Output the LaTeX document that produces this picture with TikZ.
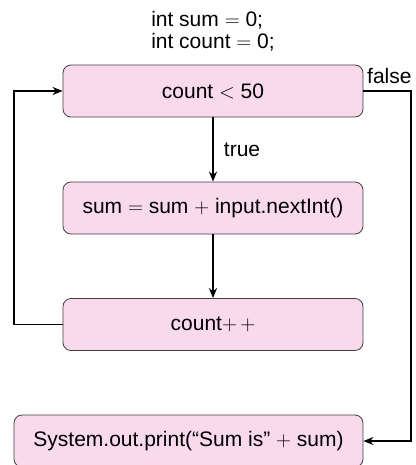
\documentclass[tikz,border=0pt]{standalone}
\usepackage{fontspec}
\setmainfont{Liberation Sans}
\usetikzlibrary{arrows.meta}
\definecolor{boxpink}{RGB}{249,217,236}
\begin{document}
\begin{tikzpicture}[x=1pt,y=-1pt,
  txt/.style={font=\fontsize{21}{22}\selectfont, inner sep=0pt},
  stmt/.style={txt, draw=black!75, line width=0.8pt, fill=boxpink, rounded corners=8pt, minimum width=300pt, minimum height=52pt},
  flow/.style={line width=1.9pt, -{Stealth[length=10pt,width=8pt]}}]
\useasboundingbox (0,0) rectangle (415,465);
\node[txt, align=left] (init) at (213,31.5){int sum $=$ 0;\\int count $=$ 0;};
\node[stmt] (cond) at (213,91){count $<$ 50};
\node[stmt] (body) at (213,208){sum $=$ sum $+$ input.nextInt()};
\node[stmt] (inc) at (213,324.5){count$+\,+$};
\node[stmt, minimum width=349pt] (print) at (188.5,441){System.out.print(“Sum is” $+$ sum)};
\draw[flow] (cond) -- node[txt, right=10pt] (true) {true} (body);
\draw[flow] (body) -- (inc);
\draw[flow] (inc.west) -- ++(-49,0) |- (cond.west);
\draw[flow] (cond.east) -- ++(48,0) |- (print.east);
\node[txt, anchor=south west] (false) at (367,84){false};
\end{tikzpicture}
\end{document}
